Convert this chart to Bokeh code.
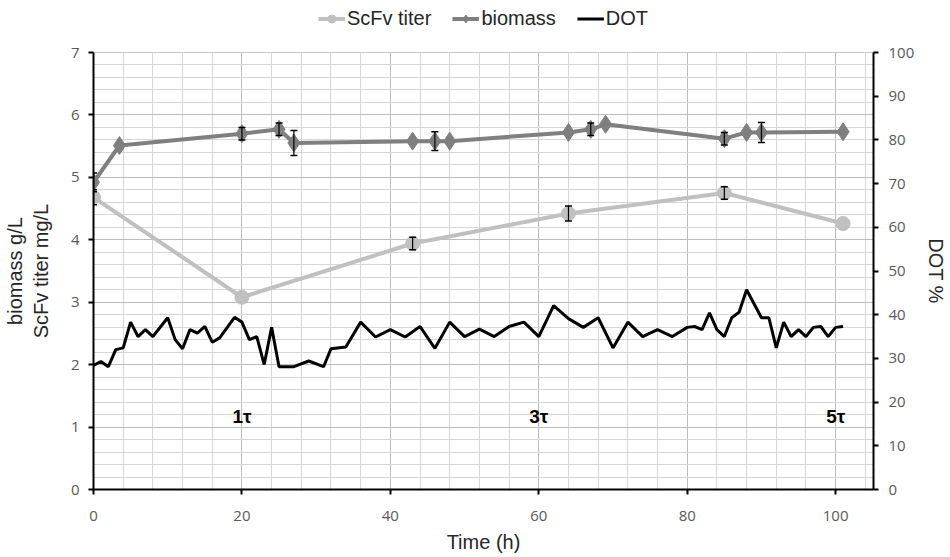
from bokeh.plotting import figure
from bokeh.layouts import column
from bokeh.models import (Range1d, LinearAxis, SingleIntervalTicker, ColumnDataSource,
                          Whisker, TeeHead, Legend, LegendItem)
from bokeh.core.properties import value
from bokeh.embed import file_html
from bokeh.resources import INLINE

# ---- data ----
time_biomass = [0, 3.5, 20, 25, 27, 43, 46, 48, 64, 67, 69, 85, 88, 90, 101]
biomass = [4.92, 5.51, 5.70, 5.77, 5.55, 5.58, 5.58, 5.58, 5.72, 5.77, 5.85, 5.62, 5.72, 5.72, 5.73]
biomass_err = [0.15, 0, 0.1, 0.1, 0.2, 0, 0.15, 0, 0, 0.1, 0, 0.1, 0, 0.16, 0]

time_scfv = [0, 20, 43, 64, 85, 101]
scfv = [4.68, 3.08, 3.94, 4.42, 4.75, 4.26]
scfv_err = [0.12, 0, 0.1, 0.12, 0.1, 0]

time_dot = [0, 1, 2, 3, 4, 5, 6, 7, 8, 10, 11, 12, 13, 14, 15, 16, 17, 19, 20, 21, 22, 23,
            24, 25, 26, 27, 29, 31, 32, 34, 36, 38, 40, 42, 44, 46, 48, 50, 52, 54, 56, 58,
            60, 62, 64, 66, 68, 70, 72, 74, 76, 78, 80, 81, 82, 83, 84, 85, 86, 87, 88, 89,
            90, 91, 92, 93, 94, 95, 96, 97, 98, 99, 100, 101]
dot = [28.4, 29.3, 28.1, 32.0, 32.4, 38.3, 35.0, 36.6, 35.0, 39.3, 34.3, 32.2, 36.6, 35.8,
       37.3, 33.7, 34.7, 39.4, 38.3, 34.3, 35.0, 28.6, 37.1, 28.1, 28.1, 28.1, 29.4, 28.1,
       32.2, 32.6, 38.3, 34.9, 36.6, 34.9, 37.3, 32.3, 38.3, 35.0, 36.7, 35.0, 37.3, 38.3,
       35.0, 42.1, 39.1, 37.1, 39.3, 32.4, 38.3, 35.0, 36.6, 35.0, 37.1, 37.3, 36.6, 40.4,
       36.6, 35.0, 39.3, 40.6, 45.7, 42.5, 39.3, 39.3, 32.4, 38.3, 35.0, 36.6, 35.0, 37.1,
       37.3, 35.0, 37.1, 37.3]

tau_x = [20, 60, 100]
tau_y = [1.17, 1.17, 1.17]
tau_labels = ["1\u03c4", "3\u03c4", "5\u03c4"]

series_names = ["ScFv titer", "biomass", "DOT"]

SCFV_COLOR = "#c0c0c0"
BIO_COLOR = "#7f7f7f"
TICK_FONT = "Open Sans"
TITLE_FONT = "Liberation Sans"

# ---- main figure ----
p = figure(width=950, height=521,
           x_range=Range1d(0, 105.1), y_range=Range1d(0, 7),
           output_backend="svg", toolbar_location=None,
           min_border_left=93, min_border_right=77, min_border_top=16, min_border_bottom=68)
p.background_fill_color = "white"
p.border_fill_color = "white"
p.outline_line_color = "#c8c8c8"

p.extra_y_ranges = {"dot": Range1d(0, 100)}

def style_axis(ax):
    ax.axis_line_color = "black"
    ax.axis_line_width = 2
    ax.major_tick_line_color = "black"
    ax.major_tick_line_width = 2
    ax.major_tick_out = 5
    ax.major_tick_in = 0
    ax.minor_tick_line_color = None
    ax.major_label_text_font = TICK_FONT
    ax.major_label_text_font_size = "15px"
    ax.major_label_text_color = "#595959"
    ax.axis_label_text_font = TITLE_FONT
    ax.axis_label_text_font_size = "20px"
    ax.axis_label_text_font_style = "normal"
    ax.axis_label_text_color = "#262626"

p.xaxis.ticker = SingleIntervalTicker(interval=20, num_minor_ticks=5)
p.yaxis.ticker = SingleIntervalTicker(interval=1, num_minor_ticks=5)
p.xaxis.axis_label = "Time (h)"
p.yaxis.axis_label = "biomass g/L\nScFv titer mg/L"
style_axis(p.xaxis[0])
style_axis(p.yaxis[0])
p.xaxis.major_label_standoff = 16
p.xaxis.axis_label_standoff = 7
p.yaxis.major_label_standoff = 9
p.yaxis.axis_label_standoff = 16

rax = LinearAxis(y_range_name="dot", ticker=SingleIntervalTicker(interval=10),
                 axis_label="DOT %")
style_axis(rax)
rax.major_label_standoff = 10
rax.axis_label_standoff = 8
p.add_layout(rax, "right")

for g in (p.xgrid[0], p.ygrid[0]):
    g.grid_line_color = "#bdbdbd"
    g.grid_line_width = 1
    g.minor_grid_line_color = "#d6d6d6"
    g.minor_grid_line_width = 1

p.line(time_dot, dot, y_range_name="dot", line_color="black", line_width=3)

p.line(time_scfv, scfv, line_color=SCFV_COLOR, line_width=4)
p.scatter(time_scfv, scfv, marker="circle", size=14, fill_color=SCFV_COLOR, line_color=SCFV_COLOR)

p.line(time_biomass, biomass, line_color=BIO_COLOR, line_width=4)
p.scatter(time_biomass, biomass, marker="diamond", size=18, fill_color=BIO_COLOR, line_color=BIO_COLOR)

def err_source(xs, ys, es):
    sel = [(x, y, e) for x, y, e in zip(xs, ys, es) if e > 0]
    return ColumnDataSource(dict(x=[s[0] for s in sel],
                                 upper=[s[1] + s[2] for s in sel],
                                 lower=[s[1] - s[2] for s in sel]))

for src in (err_source(time_biomass, biomass, biomass_err),
            err_source(time_scfv, scfv, scfv_err)):
    w = Whisker(base="x", upper="upper", lower="lower", source=src,
                line_color="black", line_width=1.2,
                upper_head=TeeHead(size=7, line_color="black", line_width=1.5),
                lower_head=TeeHead(size=7, line_color="black", line_width=1.5))
    w.level = "overlay"
    p.add_layout(w)

p.text(x=tau_x, y=tau_y, text=tau_labels, text_font=value(TITLE_FONT),
       text_font_size="19px", text_font_style="bold", text_color="black",
       text_align="center", text_baseline="middle")

# ---- legend strip above the chart ----
# The series are drawn again here only to own the legend entries; the
# strip's y range (0..1) lies below every value, so only the legend shows.
lf = figure(width=950, height=36, x_range=Range1d(0, 1), y_range=Range1d(0, 1),
            x_axis_type=None, y_axis_type=None, output_backend="svg",
            toolbar_location=None, min_border=0)
lf.outline_line_color = None
lf.background_fill_color = "white"
lf.border_fill_color = "white"
l_scfv = lf.line(time_scfv, scfv, line_color=SCFV_COLOR, line_width=4)
m_scfv = lf.scatter(time_scfv, scfv, marker="circle", size=10, fill_color=SCFV_COLOR, line_color=SCFV_COLOR)
l_bio = lf.line(time_biomass, biomass, line_color=BIO_COLOR, line_width=4)
m_bio = lf.scatter(time_biomass, biomass, marker="diamond", size=12, fill_color=BIO_COLOR, line_color=BIO_COLOR)
l_dot = lf.line(time_dot, dot, line_color="black", line_width=3)

legend = Legend(items=[
    LegendItem(label=series_names[0], renderers=[l_scfv, m_scfv]),
    LegendItem(label=series_names[1], renderers=[l_bio, m_bio]),
    LegendItem(label=series_names[2], renderers=[l_dot]),
], orientation="horizontal", location="center")
legend.label_text_font = TITLE_FONT
legend.label_text_font_size = "20px"
legend.label_text_color = "#262626"
legend.border_line_color = None
legend.background_fill_alpha = 0
legend.glyph_width = 27
legend.label_standoff = 2
legend.spacing = 21
legend.padding = 4
legend.margin = 0
lf.add_layout(legend)

layout = column(lf, p, spacing=0)
open("out.html", "w").write(file_html(layout, INLINE))
